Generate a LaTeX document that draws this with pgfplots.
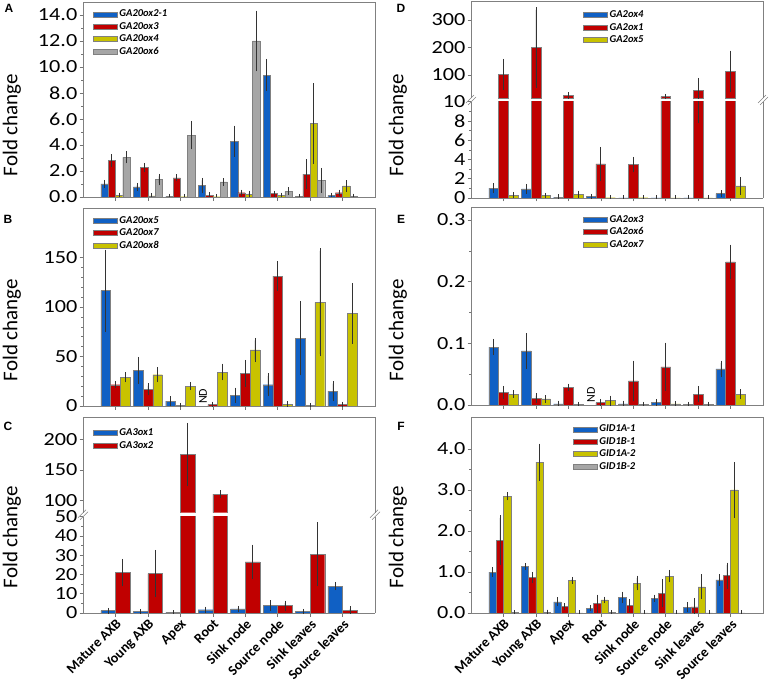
\documentclass[border=0pt]{standalone}
\usepackage{pgfplots}
\usepackage{pgfplotstable}
\pgfplotsset{compat=1.18}
\usepackage{fontspec}
\setmainfont{Carlito}
\newfontfamily\letterfont{Liberation Sans}
\newfontfamily\tickfont[FakeStretch=1.2]{Carlito}

\definecolor{cblue}{RGB}{16,96,196}
\definecolor{cred}{RGB}{192,0,0}
\definecolor{cyel}{RGB}{200,194,0}
\definecolor{cgray}{RGB}{166,166,166}

\pgfplotsset{
  base/.style={
    scale only axis, width=292pt,
    xmin=-1, xmax=8, xtick={0,...,7}, xticklabels={},
    ybar,
    axis line style={-, draw=black!50, line width=0.6pt},
    tick style={black!55, line width=0.5pt},
    tick align=outside,
    major tick length=3.5pt, minor tick length=2pt,
    /pgf/number format/assume math mode=true,
    yticklabel style={font=\tickfont\fontsize{18.5}{18.5}\selectfont, inner sep=2pt},
    xticklabel style={font=\bfseries\fontsize{14}{14}\selectfont, rotate=45, anchor=north east, inner sep=1pt},
    legend style={draw=none, fill=none, font=\fontsize{10.5}{11}\selectfont\bfseries\itshape, anchor=north west, row sep=0pt, inner sep=1pt},
    legend cell align=left,
    legend image code/.code={\draw[##1,/tikz/.cd,draw=black!50,line width=0.5pt] (0pt,-2.5pt) rectangle (24pt,2.5pt);},
  },
  eb/.style={error bars/.cd, y dir=both, y explicit,
    error bar style={black!80, line width=0.6pt},
    error mark options={black!80, line width=0.6pt, mark size=2.5pt}, /pgfplots/.cd},
  dec1/.style={/pgf/number format/.cd, fixed, fixed zerofill, precision=1},
  bars/.style={draw=black!50, line width=0.4pt},
}

% Panel A
\pgfplotstableread{
x b eb r er y ey g eg
0 1.00 0.12 2.80 0.30 0.13 0.02 3.05 0.28
1 0.77 0.12 2.26 0.18 0.08 0.02 1.34 0.25
2 0.03 0.01 1.47 0.08 0.02 0.00 4.76 0.90
3 0.87 0.40 0.13 0.03 0.02 0.00 1.16 0.10
4 4.29 1.00 0.33 0.05 0.20 0.10 12.0 2.15
5 9.38 1.05 0.26 0.04 0.13 0.02 0.44 0.10
6 0.03 0.01 1.75 0.96 5.65 2.90 1.28 0.77
7 0.12 0.03 0.33 0.05 0.85 0.25 0.05 0.01
}\dataA
% Panel B
\pgfplotstableread{
x b eb r er y ey
0 116.5 39 21.5 1.2 29 2.7
1 36 11 17 3.7 31.6 5
2 5 2.5 0.5 0.2 20 1.5
3 nan nan 1.5 0.5 34.3 6
4 11 5 33 11 56.6 9.8
5 21.5 9 131.3 12.6 2 0.5
6 68.4 35 0.5 0.2 104.7 52
7 15 7.5 1.5 0.5 93.6 28
}\dataB
% Panel C
\pgfplotstableread{
x b eb r er
0 1.2 0.2 21 5.8
1 0.7 0.1 20.5 11
2 0.2 0.05 175.3 48
3 1.7 0.3 110.4 2.7
4 2.2 0.2 26.5 7.7
5 3.9 1.3 3.8 1.3
6 0.7 0.2 30.5 15.3
7 14 0.85 1.2 1.0
}\dataC
% Panel D
\pgfplotstableread{
x b eb r er y ey
0 1.03 0.26 102.4 47 0.30 0.05
1 0.96 0.25 200 137 0.25 0.03
2 0.10 0.03 25 3 0.41 0.10
3 0.14 0.04 3.54 1.5 0.03 0.01
4 0.02 0 3.47 0.55 0.03 0
5 0.02 0 21 1 0.02 0
6 0.02 0 44 36 0.01 0
7 0.45 0.10 113.4 66 1.27 0.65
}\dataD
% Panel E
\pgfplotstableread{
x b eb r er y ey
0 0.094 0.009 0.0206 0.0065 0.0178 0.002
1 0.0876 0.025 0.0113 0.004 0.010 0.002
2 0.002 0.001 0.029 0.0015 0.001 0
3 nan nan 0.004 0.002 0.007 0.004
4 0.002 0.001 0.039 0.029 0.001 0
5 0.004 0.001 0.062 0.035 0.002 0
6 0.001 0 0.0178 0.009 0.001 0
7 0.0584 0.0095 0.232 0.024 0.0173 0.004
}\dataE
% Panel F
\pgfplotstableread{
x b eb r er y ey g eg
0 1.00 0.05 1.78 0.54 2.85 0.04 0.01 0
1 1.13 0.02 0.87 0.07 3.68 0.39 0.02 0
2 0.27 0.05 0.16 0.02 0.80 0.02 0.005 0
3 0.12 0.01 0.23 0.16 0.32 0.02 0.01 0
4 0.38 0.08 0.18 0.10 0.73 0.12 0.005 0
5 0.36 0.03 0.48 0.28 0.90 0.09 0.005 0
6 0.14 0.06 0.15 0.16 0.64 0.24 0.005 0
7 0.81 0.08 0.91 0.26 3.00 0.61 0.005 0
}\dataF

\begin{document}
\begin{tikzpicture}
\useasboundingbox (0pt,0pt) rectangle (770pt,-687pt);

% ---------- A ----------
\begin{axis}[base, at={(83pt,-197pt)}, anchor=south west, height=195pt,
  ymin=0, ymax=15, ytick={0,2,...,14}, minor y tick num=1,
  xtick pos=bottom, ytick pos=left, yticklabel style={dec1},
  bar width=0.225, legend style={at={(rel axis cs:0.03,0.975)}}]
\addplot[bars, fill=cblue, bar shift=-0.3375, eb] table[x=x,y=b,y error=eb] {\dataA};
\addplot[bars, fill=cred, bar shift=-0.1125, eb] table[x=x,y=r,y error=er] {\dataA};
\addplot[bars, fill=cyel, bar shift=0.1125, eb] table[x=x,y=y,y error=ey] {\dataA};
\addplot[bars, fill=cgray, bar shift=0.3375, eb] table[x=x,y=g,y error=eg] {\dataA};
\legend{GA20ox2-1, GA20ox3, GA20ox4, GA20ox6}
\end{axis}

% ---------- B ----------
\begin{axis}[base, at={(83pt,-406pt)}, anchor=south west, height=198pt,
  ymin=0, ymax=200, ytick={0,50,100,150}, minor y tick num=4,
  xtick pos=bottom, ytick pos=left,
  bar width=0.3, legend style={at={(rel axis cs:0.03,0.975)}}]
\addplot[bars, fill=cblue, bar shift=-0.3, eb] table[x=x,y=b,y error=eb] {\dataB};
\addplot[bars, fill=cred, bar shift=0, eb] table[x=x,y=r,y error=er] {\dataB};
\addplot[bars, fill=cyel, bar shift=0.3, eb] table[x=x,y=y,y error=ey] {\dataB};
\legend{GA20ox5, GA20ox7, GA20ox8}
\node[rotate=90, anchor=west, font=\fontsize{12}{12}\selectfont, inner sep=0pt] at (axis cs:2.7,2) {ND};
\end{axis}

% ---------- C upper ----------
\begin{axis}[base, at={(83pt,-512.7pt)}, anchor=south west, height=95.7pt,
  ymin=80, ymax=237, ytick={100,150,200},
  axis x line*=top, xtick=\empty, ytick pos=left,
  bar width=0.45, legend style={at={(rel axis cs:0.03,0.91)}}]
\addlegendimage{fill=cblue}\addlegendentry{GA3ox1}
\addlegendimage{fill=cred}\addlegendentry{GA3ox2}
\addplot[forget plot, restrict y to domain=80:1000, bars, fill=cred, bar shift=0.225, eb] table[x=x,y=r,y error=er] {\dataC};
\end{axis}
% ---------- C lower ----------
\begin{axis}[base, at={(83pt,-613pt)}, anchor=south west, height=96.3pt,
  ymin=0, ymax=50, ytick={0,10,...,50}, minor y tick num=1,
  axis x line*=bottom, ytick pos=left,
  xticklabels={Mature AXB, Young AXB, Apex, Root, Sink node, Source node, Sink leaves, Source leaves},
  bar width=0.45]
\addplot[bars, fill=cblue, bar shift=-0.225, eb] table[x=x,y=b,y error=eb] {\dataC};
\addplot[bars, fill=cred, bar shift=0.225, eb] table[x=x,y=r,y error=er] {\dataC};
\end{axis}

% ---------- D upper ----------
\begin{axis}[base, at={(471pt,-98.3pt)}, anchor=south west, height=97.3pt,
  ymin=15, ymax=369, ytick={100,200,300},
  axis x line*=top, xtick=\empty, ytick pos=left,
  bar width=0.3, legend style={at={(rel axis cs:0.38,0.93)}}]
\addlegendimage{fill=cblue}\addlegendentry{GA2ox4}
\addlegendimage{fill=cred}\addlegendentry{GA2ox1}
\addlegendimage{fill=cyel}\addlegendentry{GA2ox5}
\addplot[forget plot, restrict y to domain=15:1000, bars, fill=cred, bar shift=0, eb] table[x=x,y=r,y error=er] {\dataD};
\end{axis}
% ---------- D lower ----------
\begin{axis}[base, at={(471pt,-198pt)}, anchor=south west, height=96.3pt,
  ymin=0, ymax=10, ytick={0,2,...,10}, minor y tick num=1,
  axis x line*=bottom, ytick pos=left,
  bar width=0.3]
\addplot[bars, fill=cblue, bar shift=-0.3, eb] table[x=x,y=b,y error=eb] {\dataD};
\addplot[bars, fill=cred, bar shift=0, eb] table[x=x,y=r,y error=er] {\dataD};
\addplot[bars, fill=cyel, bar shift=0.3, eb] table[x=x,y=y,y error=ey] {\dataD};
\end{axis}

% ---------- E ----------
\begin{axis}[base, at={(471pt,-405pt)}, anchor=south west, height=198pt,
  ymin=0, ymax=0.321, ytick={0,0.1,0.2,0.3}, minor y tick num=1,
  xtick pos=bottom, ytick pos=left, yticklabel style={dec1},
  bar width=0.3, legend style={at={(rel axis cs:0.38,0.975)}}]
\addplot[bars, fill=cblue, bar shift=-0.3, eb] table[x=x,y=b,y error=eb] {\dataE};
\addplot[bars, fill=cred, bar shift=0, eb] table[x=x,y=r,y error=er] {\dataE};
\addplot[bars, fill=cyel, bar shift=0.3, eb] table[x=x,y=y,y error=ey] {\dataE};
\legend{GA2ox3, GA2ox6, GA2ox7}
\node[rotate=90, anchor=west, font=\fontsize{12}{12}\selectfont, inner sep=0pt] at (axis cs:2.7,0.004) {ND};
\end{axis}

% ---------- F ----------
\begin{axis}[base, at={(471pt,-613pt)}, anchor=south west, height=196pt,
  ymin=0, ymax=4.78, ytick={0,1,...,4}, minor y tick num=1,
  xtick pos=bottom, ytick pos=left, yticklabel style={dec1},
  xticklabels={Mature AXB, Young AXB, Apex, Root, Sink node, Source node, Sink leaves, Source leaves},
  bar width=0.225, legend style={at={(rel axis cs:0.345,0.975)}}]
\addplot[bars, fill=cblue, bar shift=-0.3375, eb] table[x=x,y=b,y error=eb] {\dataF};
\addplot[bars, fill=cred, bar shift=-0.1125, eb] table[x=x,y=r,y error=er] {\dataF};
\addplot[bars, fill=cyel, bar shift=0.1125, eb] table[x=x,y=y,y error=ey] {\dataF};
\addplot[bars, fill=cgray, bar shift=0.3375, eb] table[x=x,y=g,y error=eg] {\dataF};
\legend{GID1A-1, GID1B-1, GID1A-2, GID1B-2}
\end{axis}

% y labels
\foreach \xx in {12,398}{
  \foreach \yy in {125,330,537}{
    \node[rotate=90, font=\fontsize{21}{21}\selectfont] at (\xx pt,-\yy pt) {Fold change};
  }
}
% panel letters
\begin{scope}[font=\letterfont\bfseries\fontsize{12}{12}\selectfont]
\node at (9pt,-8pt) {A};
\node at (8pt,-219pt) {B};
\node at (8pt,-426pt) {C};
\node at (401pt,-8.5pt) {D};
\node at (401pt,-219pt) {E};
\node at (401pt,-426pt) {F};
\end{scope}
% break marks
\begin{scope}[draw=black!50, line width=0.5pt]
\foreach \bx/\by in {83/514.7, 375/514.7, 471/100, 763/100}{
  \draw (\bx pt-5pt,-\by pt-3pt) -- (\bx pt+3pt,-\by pt+5pt);
  \draw (\bx pt-3pt,-\by pt-5pt) -- (\bx pt+5pt,-\by pt+3pt);
}
\end{scope}
\end{tikzpicture}
\end{document}
